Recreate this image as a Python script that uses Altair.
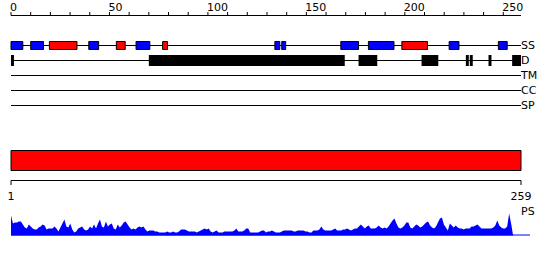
import altair as alt
import pandas as pd

SEQ_LEN = 259

# top ruler
top_ticks = list(range(0, 260, 10))
top_labels = [0, 50, 100, 150, 200, 250]

# tracks
track_names = ["SS", "D", "TM", "CC", "SP"]

# secondary structure elements (start, end, type)
ss_start = [0, 10, 19.5, 39.5, 53.5, 63.5, 77, 134, 137.5, 167.5, 181.5, 198.5, 222.5, 247.5]
ss_end = [6, 16.5, 33.5, 44.5, 58, 70.5, 79.5, 136.5, 139.5, 176.5, 194.5, 211.5, 227.5, 252]
ss_type = ["strand", "strand", "helix", "strand", "helix", "strand", "helix",
           "strand", "strand", "strand", "strand", "helix", "strand", "strand"]

# disorder regions
d_start = [0, 70, 176.5, 208.5, 231, 233, 242.5, 254.5]
d_end = [1.5, 169.5, 186, 217, 232.5, 234.5, 244, 259]

# domain bar
dom_start = [0]
dom_end = [259]

# bottom ruler
bottom_labels = [1, 259]

# PS profile, one value per residue 1..259
ps_values = [
    20, 12, 13, 13, 14, 14, 11, 8, 7, 11, 9, 7, 6, 6, 8, 9, 11, 10, 6, 7,
    7, 7, 9, 7, 4, 8, 12, 16, 9, 8, 12, 6, 3, 4, 7, 8, 9, 6, 5, 6,
    9, 7, 11, 7, 12, 16, 9, 8, 14, 9, 11, 12, 7, 6, 11, 8, 10, 13, 14, 11,
    8, 6, 7, 6, 8, 9, 8, 9, 6, 4, 5, 5, 5, 4, 4, 3, 3, 3, 3, 4,
    3, 3, 4, 3, 3, 4, 6, 6, 6, 5, 4, 4, 4, 4, 3, 4, 5, 6, 7, 6,
    7, 4, 3, 4, 5, 3, 3, 3, 4, 4, 4, 4, 4, 5, 7, 4, 4, 4, 5, 7,
    7, 3, 3, 3, 3, 3, 4, 5, 5, 3, 4, 4, 5, 4, 3, 3, 3, 4, 5, 5,
    5, 5, 5, 4, 4, 5, 5, 5, 5, 4, 4, 3, 3, 5, 5, 5, 6, 9, 6, 5,
    5, 5, 5, 6, 7, 5, 5, 5, 6, 6, 7, 6, 5, 6, 7, 7, 9, 11, 9, 7,
    9, 10, 7, 7, 7, 8, 10, 8, 7, 8, 7, 9, 12, 15, 17, 12, 8, 7, 8, 10,
    13, 13, 8, 7, 9, 11, 10, 8, 9, 11, 13, 14, 10, 8, 7, 9, 13, 17, 18, 11,
    8, 5, 12, 10, 8, 10, 8, 7, 7, 6, 7, 7, 7, 9, 9, 10, 11, 9, 7, 7,
    7, 7, 7, 7, 8, 10, 15, 10, 8, 7, 7, 9, 22, 12, 0, 0, 0, 0, 0,
]

FONT = "DejaVu Sans"
FS = 11

xs = alt.Scale(domain=[0, SEQ_LEN], range=[11, 521])
xs_res = alt.Scale(domain=[1, SEQ_LEN], range=[11, 521])
ys_track = alt.Scale(type="point", domain=track_names, range=[45.5, 105.5], padding=0)

# ---------------- top ruler ----------------
ruler_line = alt.Chart(pd.DataFrame({"a": [0], "b": [SEQ_LEN]})).mark_rule(
    color="black", strokeWidth=1
).encode(
    x=alt.X("a:Q", scale=xs, axis=None), x2="b:Q", y=alt.value(15.5)
)
ruler_ticks = alt.Chart(pd.DataFrame({"t": top_ticks})).mark_rule(
    color="black", strokeWidth=1
).encode(
    x=alt.X("t:Q", scale=xs, axis=None), y=alt.value(12), y2=alt.value(15.5)
)
ruler_text = alt.Chart(pd.DataFrame({"t": top_labels})).mark_text(
    align="left", baseline="alphabetic", font=FONT, fontSize=FS, color="black", dx=-1
).encode(
    x=alt.X("t:Q", scale=xs, axis=None), y=alt.value(11), text="t:N"
)

# ---------------- tracks ----------------
track_df = pd.DataFrame({"track": track_names, "a": [0] * 5, "b": [SEQ_LEN] * 5})
track_lines = alt.Chart(track_df).mark_rule(color="black", strokeWidth=1).encode(
    x=alt.X("a:Q", scale=xs, axis=None), x2="b:Q",
    y=alt.Y("track:N", scale=ys_track, axis=None),
)
track_text = alt.Chart(track_df).mark_text(
    align="left", baseline="middle", font=FONT, fontSize=FS, color="black", dx=0
).encode(
    x=alt.X("b:Q", scale=xs, axis=None),
    y=alt.Y("track:N", scale=ys_track, axis=None),
    text="track:N",
)

ss_df = pd.DataFrame({"s": ss_start, "e": ss_end, "type": ss_type, "track": "SS"})
ss_bars = alt.Chart(ss_df).mark_bar(size=8, stroke="black", strokeWidth=1).encode(
    x=alt.X("s:Q", scale=xs, axis=None), x2="e:Q",
    y=alt.Y("track:N", scale=ys_track, axis=None),
    color=alt.Color("type:N", scale=alt.Scale(domain=["strand", "helix"], range=["#0000ff", "#ff0000"]), legend=None),
)

d_df = pd.DataFrame({"s": d_start, "e": d_end, "track": "D"})
d_bars = alt.Chart(d_df).mark_bar(size=11, color="black").encode(
    x=alt.X("s:Q", scale=xs, axis=None), x2="e:Q",
    y=alt.Y("track:N", scale=ys_track, axis=None),
)

# ---------------- domain bar ----------------
dom_bar = alt.Chart(pd.DataFrame({"s": dom_start, "e": dom_end})).mark_rect(
    color="#ff0000", stroke="black", strokeWidth=1
).encode(
    x=alt.X("s:Q", scale=xs, axis=None), x2="e:Q", y=alt.value(150.5), y2=alt.value(170.5)
)

# ---------------- bottom ruler ----------------
b_df = pd.DataFrame({"t": bottom_labels})
b_line = alt.Chart(pd.DataFrame({"a": [bottom_labels[0]], "b": [bottom_labels[-1]]})).mark_rule(
    color="black", strokeWidth=1
).encode(
    x=alt.X("a:Q", scale=xs_res, axis=None), x2="b:Q", y=alt.value(180.5)
)
b_ticks = alt.Chart(b_df).mark_rule(color="black", strokeWidth=1).encode(
    x=alt.X("t:Q", scale=xs_res, axis=None), y=alt.value(180.5), y2=alt.value(185)
)
b_text = alt.Chart(b_df).mark_text(
    align="center", baseline="alphabetic", font=FONT, fontSize=FS, color="black"
).encode(
    x=alt.X("t:Q", scale=xs_res, axis=None), y=alt.value(200), text="t:N"
)

# ---------------- PS profile ----------------
ps_df = pd.DataFrame({"res": list(range(1, SEQ_LEN + 1)), "v": ps_values})
ps_area = alt.Chart(ps_df).mark_area(color="#0000ff", interpolate="linear").encode(
    x=alt.X("res:Q", scale=xs_res, axis=None),
    y=alt.Y("v:Q", scale=alt.Scale(domain=[0, 25], range=[235.5, 210.5]), axis=None),
)
ps_base = alt.Chart(pd.DataFrame({"a": [1], "b": [SEQ_LEN]})).mark_rule(
    color="#0000ff", strokeWidth=1
).encode(
    x=alt.X("a:Q", scale=xs_res, axis=None), x2=alt.value(530), y=alt.value(235)
)
ps_text = alt.Chart(pd.DataFrame({"t": ["PS"], "p": [SEQ_LEN]})).mark_text(
    align="left", baseline="alphabetic", font=FONT, fontSize=FS, color="black"
).encode(
    x=alt.X("p:Q", scale=xs_res, axis=None), y=alt.value(215), text="t:N"
)

chart = alt.layer(
    ruler_line, ruler_ticks, ruler_text,
    track_lines, ss_bars, d_bars, track_text,
    dom_bar, b_line, b_ticks, b_text,
    ps_base, ps_area, ps_text,
).resolve_scale(x="independent", y="independent", color="independent").properties(
    width=550, height=260, padding=0, autosize=alt.AutoSizeParams(type="none"), background="white"
).configure_view(stroke=None)

chart.save("out.html", embed_options={"renderer": "svg", "actions": False})
